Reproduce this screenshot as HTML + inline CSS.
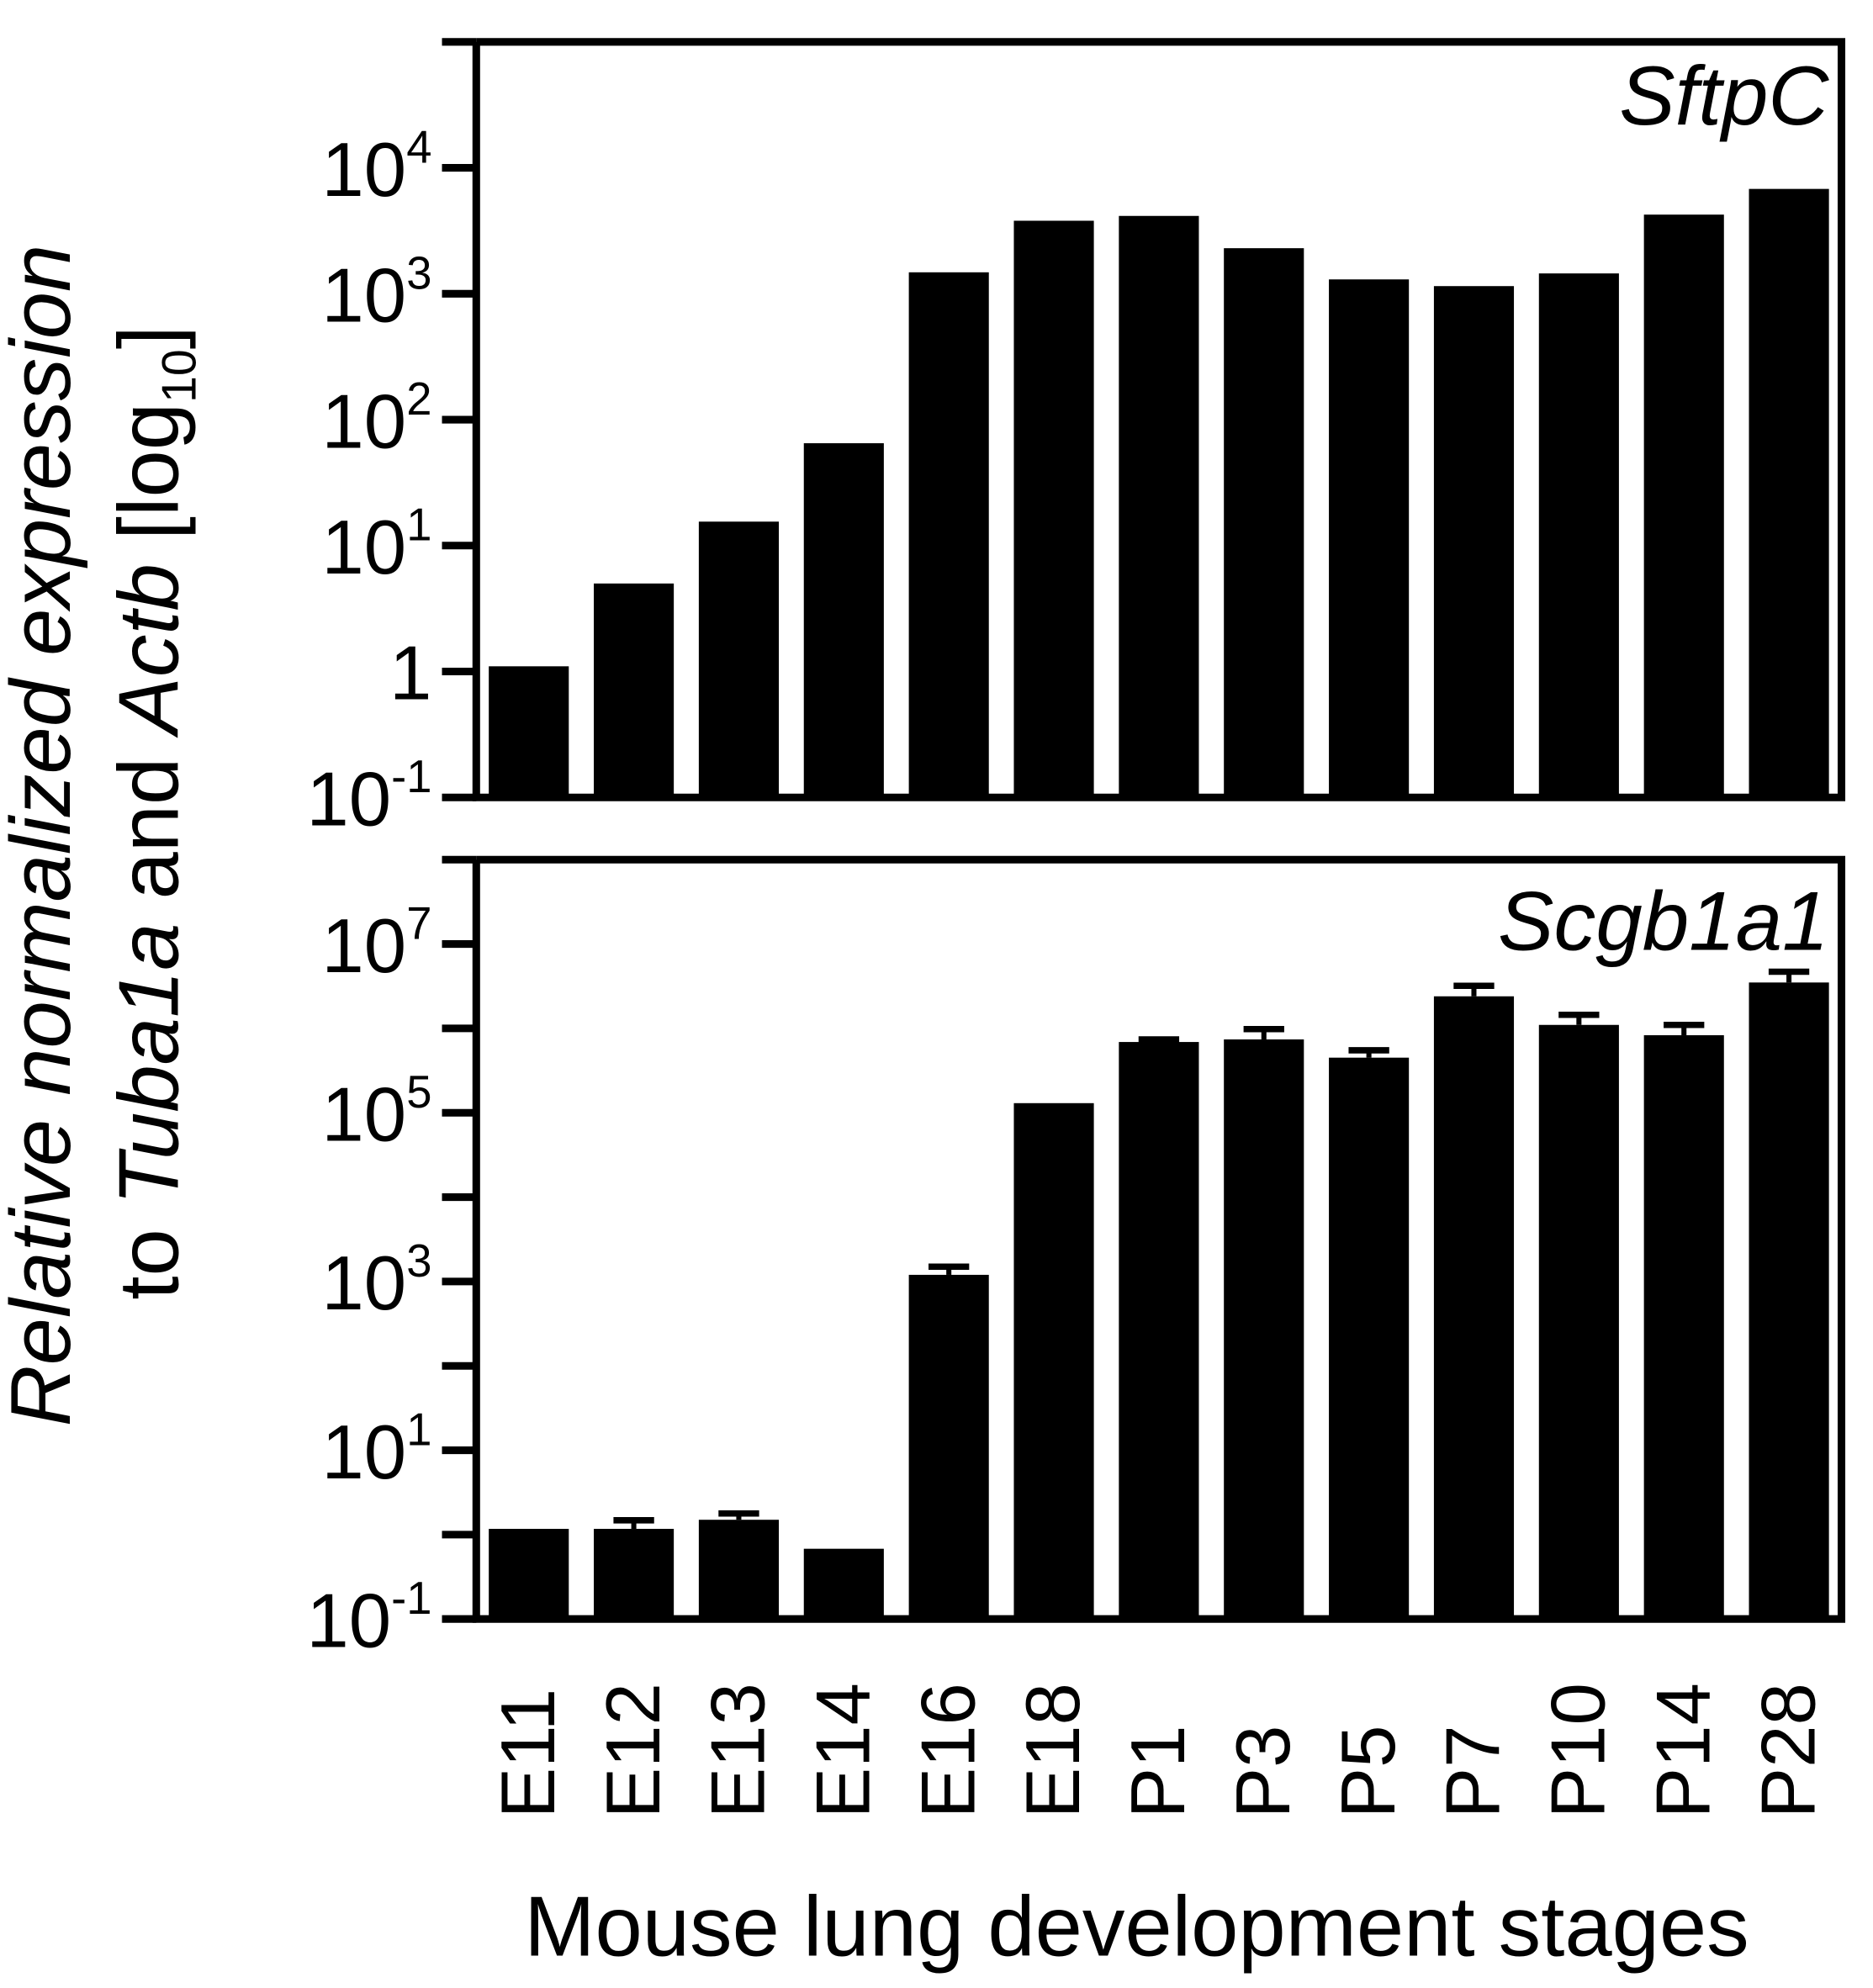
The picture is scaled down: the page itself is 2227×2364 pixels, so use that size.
<!DOCTYPE html>
<html><head><meta charset="utf-8"><style>html,body{margin:0;padding:0;background:#fff}svg{display:block}text{font-family:"Liberation Sans",Arial,sans-serif;fill:#000}</style></head>
<body>
<svg id="chart" width="2227" height="2364" viewBox="0 0 1474.8 1565.6" xmlns="http://www.w3.org/2000/svg">
<g id="top"></g>
<g id="bot"></g>
<g id="xl"></g>
<text x="1440" y="98" text-anchor="end" font-size="66" font-style="italic">SftpC</text>
<text x="1440" y="748" text-anchor="end" font-size="66" font-style="italic">Scgb1a1</text>
<text x="895" y="1540" text-anchor="middle" font-size="67">Mouse lung development stages</text>
<text transform="translate(55,658) rotate(-90)" text-anchor="middle" font-size="67" font-style="italic">Relative normalized expression</text>
<text transform="translate(140,640) rotate(-90)" text-anchor="middle" font-size="67">to <tspan font-style="italic">Tuba1a</tspan> and <tspan font-style="italic">Actb</tspan> [log<tspan font-size="38" dy="14">10</tspan><tspan dy="-14">]</tspan></text>
</svg>
<script>
const categories=["E11","E12","E13","E14","E16","E18","P1","P3","P5","P7","P10","P14","P28"];
const sftpcValues=[1.1,5,15.5,65,1480,3800,4150,2300,1300,1150,1450,4250,6800];
const scgbValues=[1.17,1.17,1.5,0.68,1200,1.3e5,6.9e5,7.4e5,4.5e5,2.4e6,1.1e6,8.3e5,3.5e6];
const scgbErrors=[0,0.31,0.28,0,300,0,0.5e5,2.4e5,1.0e5,0.8e6,0.35e6,0.27e6,1.2e6];
const sftpcTicks=[-1,0,1,2,3,4,5];
const sftpcTickLabels=["10|-1","1","10|1","10|2","10|3","10|4",""];
const scgbTicks=[-1,0,1,2,3,4,5,6,7,8];
const scgbTickLabels=["10|-1","","10|1","","10|3","","10|5","","10|7",""];
const NS="http://www.w3.org/2000/svg";
const X0=375,X1=1450,band=(X1-X0)/categories.length,bw=63;
function xc(i){return X0+band*(i+0.5);}
function mk(tag,attrs,parent){const e=document.createElementNS(NS,tag);for(const k in attrs)e.setAttribute(k,attrs[k]);parent.appendChild(e);return e;}
function panel(g,top,bottom,minL,maxL,vals,errs,ticks,labels,nm){
  const y=v=>bottom-(Math.log10(v)-minL)/(maxL-minL)*(bottom-top);
  vals.forEach((v,i)=>{
    const yt=y(v);
    if(errs&&errs[i]>0){const ye=y(v+errs[i]);
      const l=mk('line',{x1:xc(i),x2:xc(i),y1:ye,y2:yt,stroke:'#000','stroke-width':4},g);
      
      
      const c=mk('line',{x1:xc(i)-16,x2:xc(i)+16,y1:ye,y2:ye,stroke:'#000','stroke-width':5},g);
      
      }
    const r=mk('rect',{x:xc(i)-bw/2,y:yt,width:bw,height:bottom-yt,fill:'#000'},g);
    
    
  });
  const ax=mk('path',{d:`M${X0},${top} V${bottom} H${X1} V${top} H${X0}`,fill:'none',stroke:'#000','stroke-width':6},g);
  
  
  ticks.forEach((t,i)=>{
    const ty=bottom-(t-minL)/(maxL-minL)*(bottom-top);
    const tk=mk('line',{x1:348,x2:X0,y1:ty,y2:ty,stroke:'#000','stroke-width':6},g);
    
    
    const lab=labels[i];if(!lab)return;
    const tx=mk('text',{x:340,y:ty+22,'text-anchor':'end','font-size':60},g);
    
    
    const p=lab.split('|');tx.textContent=p[0];
    if(p[1]){const s=mk('tspan',{'font-size':36,dy:-26},tx);s.textContent=p[1];}
  });
}
panel(document.getElementById('top'),33,628,-1,5,sftpcValues,null,sftpcTicks,sftpcTickLabels,'sftpc');
panel(document.getElementById('bot'),677,1275,-1,8,scgbValues,scgbErrors,scgbTicks,scgbTickLabels,'scgb1a1');
const xl=document.getElementById('xl');
categories.forEach((c,i)=>{
  const t=mk('text',{transform:`translate(${xc(i)+20},1432) rotate(-90)`,'font-size':60},xl);
  
  
  t.textContent=c;
});
</script>
</body></html>
